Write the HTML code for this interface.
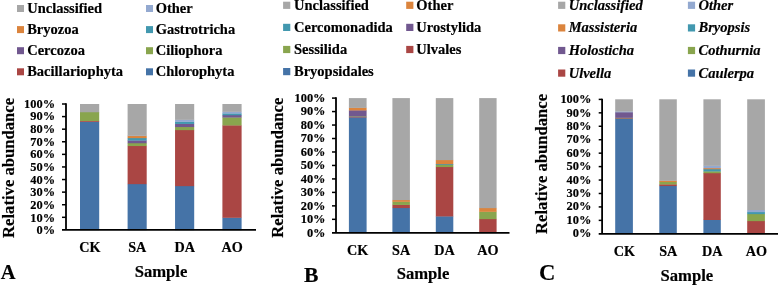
<!DOCTYPE html>
<html><head><meta charset="utf-8"><title>Relative abundance</title>
<style>html,body{margin:0;padding:0;background:#fff}svg{display:block}
text{font-family:"Liberation Serif",serif;font-weight:bold;fill:#000;stroke:#000;stroke-width:0.18px}</style></head>
<body><svg width="778" height="285" viewBox="0 0 778 285">
<rect width="778" height="285" fill="#fff"/>
<rect x="17" y="5.00" width="7" height="7" fill="#a7a7a7"/>
<text x="27.2" y="13.00" font-size="14.5">Unclassified</text>
<rect x="146" y="5.00" width="7" height="7" fill="#93a9d0"/>
<text x="155.7" y="13.00" font-size="14.5">Other</text>
<rect x="17" y="26.10" width="7" height="7" fill="#db843d"/>
<text x="27.2" y="34.10" font-size="14.5">Bryozoa</text>
<rect x="146" y="26.10" width="7" height="7" fill="#4298af"/>
<text x="155.7" y="34.10" font-size="14.5">Gastrotricha</text>
<rect x="17" y="47.20" width="7" height="7" fill="#71588f"/>
<text x="27.2" y="55.20" font-size="14.5">Cercozoa</text>
<rect x="146" y="47.20" width="7" height="7" fill="#89a54e"/>
<text x="155.7" y="55.20" font-size="14.5">Ciliophora</text>
<rect x="17" y="68.30" width="7" height="7" fill="#aa4644"/>
<text x="27.2" y="76.30" font-size="14.5">Bacillariophyta</text>
<rect x="146" y="68.30" width="7" height="7" fill="#4573a7"/>
<text x="155.7" y="76.30" font-size="14.5">Chlorophyta</text>
<rect x="80.00" y="121.60" width="19.20" height="108.55" fill="#4573a7"/>
<rect x="80.00" y="120.80" width="19.20" height="1.05" fill="#aa4644"/>
<rect x="80.00" y="112.00" width="19.20" height="9.05" fill="#89a54e"/>
<rect x="80.00" y="104.00" width="19.20" height="8.25" fill="#a7a7a7"/>
<rect x="127.60" y="183.90" width="19.10" height="46.25" fill="#4573a7"/>
<rect x="127.60" y="145.80" width="19.10" height="38.35" fill="#aa4644"/>
<rect x="127.60" y="143.00" width="19.10" height="3.05" fill="#89a54e"/>
<rect x="127.60" y="140.30" width="19.10" height="2.95" fill="#71588f"/>
<rect x="127.60" y="137.90" width="19.10" height="2.65" fill="#4298af"/>
<rect x="127.60" y="135.80" width="19.10" height="2.35" fill="#db843d"/>
<rect x="127.60" y="135.50" width="19.10" height="0.55" fill="#93a9d0"/>
<rect x="127.60" y="104.00" width="19.10" height="31.75" fill="#a7a7a7"/>
<rect x="175.05" y="185.90" width="19.15" height="44.25" fill="#4573a7"/>
<rect x="175.05" y="129.90" width="19.15" height="56.25" fill="#aa4644"/>
<rect x="175.05" y="126.80" width="19.15" height="3.35" fill="#89a54e"/>
<rect x="175.05" y="123.70" width="19.15" height="3.35" fill="#71588f"/>
<rect x="175.05" y="121.60" width="19.15" height="2.35" fill="#4298af"/>
<rect x="175.05" y="119.60" width="19.15" height="2.25" fill="#93a9d0"/>
<rect x="175.05" y="104.00" width="19.15" height="15.85" fill="#a7a7a7"/>
<rect x="222.40" y="217.55" width="19.20" height="12.60" fill="#4573a7"/>
<rect x="222.40" y="125.20" width="19.20" height="92.60" fill="#aa4644"/>
<rect x="222.40" y="117.30" width="19.20" height="8.15" fill="#89a54e"/>
<rect x="222.40" y="115.00" width="19.20" height="2.55" fill="#71588f"/>
<rect x="222.40" y="113.30" width="19.20" height="1.95" fill="#4298af"/>
<rect x="222.40" y="111.60" width="19.20" height="1.95" fill="#93a9d0"/>
<rect x="222.40" y="104.00" width="19.20" height="7.85" fill="#a7a7a7"/>
<path d="M66 103.25V229.9" fill="none" stroke="#000" stroke-width="1.8"/>
<path d="M62 229.90H256" fill="none" stroke="#000" stroke-width="1.7"/>
<path d="M62 104.00H66" stroke="#000" stroke-width="1.5"/>
<path d="M62 116.59H66" stroke="#000" stroke-width="1.5"/>
<path d="M62 129.18H66" stroke="#000" stroke-width="1.5"/>
<path d="M62 141.77H66" stroke="#000" stroke-width="1.5"/>
<path d="M62 154.36H66" stroke="#000" stroke-width="1.5"/>
<path d="M62 166.95H66" stroke="#000" stroke-width="1.5"/>
<path d="M62 179.54H66" stroke="#000" stroke-width="1.5"/>
<path d="M62 192.13H66" stroke="#000" stroke-width="1.5"/>
<path d="M62 204.72H66" stroke="#000" stroke-width="1.5"/>
<path d="M62 217.31H66" stroke="#000" stroke-width="1.5"/>
<text x="55.1" y="107.80" text-anchor="end" font-size="12.4">100%</text>
<text x="55.1" y="120.44" text-anchor="end" font-size="12.4">90%</text>
<text x="55.1" y="133.08" text-anchor="end" font-size="12.4">80%</text>
<text x="55.1" y="145.72" text-anchor="end" font-size="12.4">70%</text>
<text x="55.1" y="158.36" text-anchor="end" font-size="12.4">60%</text>
<text x="55.1" y="171.00" text-anchor="end" font-size="12.4">50%</text>
<text x="55.1" y="183.64" text-anchor="end" font-size="12.4">40%</text>
<text x="55.1" y="196.28" text-anchor="end" font-size="12.4">30%</text>
<text x="55.1" y="208.92" text-anchor="end" font-size="12.4">20%</text>
<text x="55.1" y="221.56" text-anchor="end" font-size="12.4">10%</text>
<text x="55.1" y="234.20" text-anchor="end" font-size="12.4">0%</text>
<text x="89.8" y="251.7" text-anchor="middle" font-size="14.2">CK</text>
<text x="137.2" y="251.7" text-anchor="middle" font-size="14.2">SA</text>
<text x="184.8" y="251.7" text-anchor="middle" font-size="14.2">DA</text>
<text x="232.2" y="251.7" text-anchor="middle" font-size="14.2">AO</text>
<text x="161" y="276.8" text-anchor="middle" font-size="16.65">Sample</text>
<text x="0.8" y="278.9" font-size="20.5">A</text>
<text transform="translate(14,167.9) rotate(-90)" text-anchor="middle" font-size="16.65">Relative abundance</text>
<rect x="283.1" y="1.70" width="7.2" height="7.2" fill="#a7a7a7"/>
<text x="294.0" y="9.70" font-size="14.5">Unclassified</text>
<rect x="406.2" y="1.70" width="7.2" height="7.2" fill="#db843d"/>
<text x="416.3" y="9.70" font-size="14.5">Other</text>
<rect x="283.1" y="23.80" width="7.2" height="7.2" fill="#4298af"/>
<text x="294.0" y="31.80" font-size="14.5">Cercomonadida</text>
<rect x="406.2" y="23.80" width="7.2" height="7.2" fill="#71588f"/>
<text x="416.3" y="31.80" font-size="14.5">Urostylida</text>
<rect x="283.1" y="45.90" width="7.2" height="7.2" fill="#89a54e"/>
<text x="294.0" y="53.90" font-size="14.5">Sessilida</text>
<rect x="406.2" y="45.90" width="7.2" height="7.2" fill="#aa4644"/>
<text x="416.3" y="53.90" font-size="14.5">Ulvales</text>
<rect x="283.1" y="68.00" width="7.2" height="7.2" fill="#4573a7"/>
<text x="294.0" y="76.00" font-size="14.5">Bryopsidales</text>
<rect x="348.90" y="117.20" width="17.70" height="115.85" fill="#4573a7"/>
<rect x="348.90" y="116.70" width="17.70" height="0.75" fill="#aa4644"/>
<rect x="348.90" y="116.20" width="17.70" height="0.75" fill="#89a54e"/>
<rect x="348.90" y="110.20" width="17.70" height="6.25" fill="#71588f"/>
<rect x="348.90" y="107.65" width="17.70" height="2.80" fill="#db843d"/>
<rect x="348.90" y="98.10" width="17.70" height="9.80" fill="#a7a7a7"/>
<rect x="392.40" y="207.80" width="17.50" height="25.25" fill="#4573a7"/>
<rect x="392.40" y="204.70" width="17.50" height="3.35" fill="#aa4644"/>
<rect x="392.40" y="201.60" width="17.50" height="3.35" fill="#89a54e"/>
<rect x="392.40" y="199.90" width="17.50" height="1.95" fill="#db843d"/>
<rect x="392.40" y="98.10" width="17.50" height="102.05" fill="#a7a7a7"/>
<rect x="435.80" y="216.20" width="17.50" height="16.85" fill="#4573a7"/>
<rect x="435.80" y="166.80" width="17.50" height="49.65" fill="#aa4644"/>
<rect x="435.80" y="164.80" width="17.50" height="2.25" fill="#89a54e"/>
<rect x="435.80" y="164.00" width="17.50" height="1.05" fill="#4298af"/>
<rect x="435.80" y="159.90" width="17.50" height="4.35" fill="#db843d"/>
<rect x="435.80" y="98.10" width="17.50" height="62.05" fill="#a7a7a7"/>
<rect x="479.20" y="218.90" width="17.40" height="14.15" fill="#aa4644"/>
<rect x="479.20" y="211.60" width="17.40" height="7.55" fill="#89a54e"/>
<rect x="479.20" y="207.90" width="17.40" height="3.95" fill="#db843d"/>
<rect x="479.20" y="98.10" width="17.40" height="110.05" fill="#a7a7a7"/>
<path d="M336 97.35V232.8" fill="none" stroke="#000" stroke-width="1.8"/>
<path d="M332 232.80H509.5" fill="none" stroke="#000" stroke-width="1.7"/>
<path d="M332 98.10H336" stroke="#000" stroke-width="1.5"/>
<path d="M332 111.57H336" stroke="#000" stroke-width="1.5"/>
<path d="M332 125.04H336" stroke="#000" stroke-width="1.5"/>
<path d="M332 138.51H336" stroke="#000" stroke-width="1.5"/>
<path d="M332 151.98H336" stroke="#000" stroke-width="1.5"/>
<path d="M332 165.45H336" stroke="#000" stroke-width="1.5"/>
<path d="M332 178.92H336" stroke="#000" stroke-width="1.5"/>
<path d="M332 192.39H336" stroke="#000" stroke-width="1.5"/>
<path d="M332 205.86H336" stroke="#000" stroke-width="1.5"/>
<path d="M332 219.33H336" stroke="#000" stroke-width="1.5"/>
<text x="325.5" y="101.80" text-anchor="end" font-size="12.4">100%</text>
<text x="325.5" y="115.30" text-anchor="end" font-size="12.4">90%</text>
<text x="325.5" y="128.80" text-anchor="end" font-size="12.4">80%</text>
<text x="325.5" y="142.30" text-anchor="end" font-size="12.4">70%</text>
<text x="325.5" y="155.80" text-anchor="end" font-size="12.4">60%</text>
<text x="325.5" y="169.30" text-anchor="end" font-size="12.4">50%</text>
<text x="325.5" y="182.80" text-anchor="end" font-size="12.4">40%</text>
<text x="325.5" y="196.30" text-anchor="end" font-size="12.4">30%</text>
<text x="325.5" y="209.80" text-anchor="end" font-size="12.4">20%</text>
<text x="325.5" y="223.30" text-anchor="end" font-size="12.4">10%</text>
<text x="325.5" y="236.80" text-anchor="end" font-size="12.4">0%</text>
<text x="357.7" y="254.7" text-anchor="middle" font-size="14.2">CK</text>
<text x="401.1" y="254.7" text-anchor="middle" font-size="14.2">SA</text>
<text x="444.5" y="254.7" text-anchor="middle" font-size="14.2">DA</text>
<text x="487.9" y="254.7" text-anchor="middle" font-size="14.2">AO</text>
<text x="423" y="278.9" text-anchor="middle" font-size="16.65">Sample</text>
<text x="303.9" y="281.5" font-size="21.6">B</text>
<text transform="translate(282.8,167.7) rotate(-90)" text-anchor="middle" font-size="16.65">Relative abundance</text>
<rect x="558.1" y="1.70" width="7.2" height="7.2" fill="#a7a7a7"/>
<text x="568.7" y="9.80" font-size="14.5" font-style="italic">Unclassified</text>
<rect x="687.9" y="1.70" width="7.2" height="7.2" fill="#93a9d0"/>
<text x="698.5" y="9.80" font-size="14.5" font-style="italic">Other</text>
<rect x="558.1" y="24.30" width="7.2" height="7.2" fill="#db843d"/>
<text x="568.7" y="32.40" font-size="14.5" font-style="italic">Massisteria</text>
<rect x="687.9" y="24.30" width="7.2" height="7.2" fill="#4298af"/>
<text x="698.5" y="32.40" font-size="14.5" font-style="italic">Bryopsis</text>
<rect x="558.1" y="46.90" width="7.2" height="7.2" fill="#71588f"/>
<text x="568.7" y="55.00" font-size="14.5" font-style="italic">Holosticha</text>
<rect x="687.9" y="46.90" width="7.2" height="7.2" fill="#89a54e"/>
<text x="698.5" y="55.00" font-size="14.5" font-style="italic">Cothurnia</text>
<rect x="558.1" y="69.50" width="7.2" height="7.2" fill="#aa4644"/>
<text x="568.7" y="77.60" font-size="14.5" font-style="italic">Ulvella</text>
<rect x="687.9" y="69.50" width="7.2" height="7.2" fill="#4573a7"/>
<text x="698.5" y="77.60" font-size="14.5" font-style="italic">Caulerpa</text>
<rect x="615.20" y="118.40" width="17.70" height="115.65" fill="#4573a7"/>
<rect x="615.20" y="118.00" width="17.70" height="0.65" fill="#aa4644"/>
<rect x="615.20" y="117.60" width="17.70" height="0.65" fill="#89a54e"/>
<rect x="615.20" y="112.10" width="17.70" height="5.75" fill="#71588f"/>
<rect x="615.20" y="111.30" width="17.70" height="1.05" fill="#93a9d0"/>
<rect x="615.20" y="99.30" width="17.70" height="12.25" fill="#a7a7a7"/>
<rect x="659.30" y="185.80" width="17.50" height="48.25" fill="#4573a7"/>
<rect x="659.30" y="184.20" width="17.50" height="1.85" fill="#aa4644"/>
<rect x="659.30" y="181.80" width="17.50" height="2.65" fill="#89a54e"/>
<rect x="659.30" y="180.60" width="17.50" height="1.45" fill="#db843d"/>
<rect x="659.30" y="99.30" width="17.50" height="81.55" fill="#a7a7a7"/>
<rect x="703.40" y="219.75" width="17.40" height="14.30" fill="#4573a7"/>
<rect x="703.40" y="173.00" width="17.40" height="47.00" fill="#aa4644"/>
<rect x="703.40" y="171.20" width="17.40" height="2.05" fill="#89a54e"/>
<rect x="703.40" y="169.00" width="17.40" height="2.45" fill="#4298af"/>
<rect x="703.40" y="168.00" width="17.40" height="1.25" fill="#db843d"/>
<rect x="703.40" y="165.60" width="17.40" height="2.65" fill="#93a9d0"/>
<rect x="703.40" y="99.30" width="17.40" height="66.55" fill="#a7a7a7"/>
<rect x="747.20" y="220.90" width="17.70" height="13.15" fill="#aa4644"/>
<rect x="747.20" y="213.90" width="17.70" height="7.25" fill="#89a54e"/>
<rect x="747.20" y="211.90" width="17.70" height="2.25" fill="#4298af"/>
<rect x="747.20" y="209.90" width="17.70" height="2.25" fill="#93a9d0"/>
<rect x="747.20" y="99.30" width="17.70" height="110.85" fill="#a7a7a7"/>
<path d="M602.1 98.65V233.8" fill="none" stroke="#000" stroke-width="1.8"/>
<path d="M598.7 233.80H779" fill="none" stroke="#000" stroke-width="1.7"/>
<path d="M598.7 99.40H602.1" stroke="#000" stroke-width="1.5"/>
<path d="M598.7 112.84H602.1" stroke="#000" stroke-width="1.5"/>
<path d="M598.7 126.28H602.1" stroke="#000" stroke-width="1.5"/>
<path d="M598.7 139.72H602.1" stroke="#000" stroke-width="1.5"/>
<path d="M598.7 153.16H602.1" stroke="#000" stroke-width="1.5"/>
<path d="M598.7 166.60H602.1" stroke="#000" stroke-width="1.5"/>
<path d="M598.7 180.04H602.1" stroke="#000" stroke-width="1.5"/>
<path d="M598.7 193.48H602.1" stroke="#000" stroke-width="1.5"/>
<path d="M598.7 206.92H602.1" stroke="#000" stroke-width="1.5"/>
<path d="M598.7 220.36H602.1" stroke="#000" stroke-width="1.5"/>
<text x="591.4" y="103.40" text-anchor="end" font-size="12.4">100%</text>
<text x="591.4" y="116.75" text-anchor="end" font-size="12.4">90%</text>
<text x="591.4" y="130.10" text-anchor="end" font-size="12.4">80%</text>
<text x="591.4" y="143.45" text-anchor="end" font-size="12.4">70%</text>
<text x="591.4" y="156.80" text-anchor="end" font-size="12.4">60%</text>
<text x="591.4" y="170.15" text-anchor="end" font-size="12.4">50%</text>
<text x="591.4" y="183.50" text-anchor="end" font-size="12.4">40%</text>
<text x="591.4" y="196.85" text-anchor="end" font-size="12.4">30%</text>
<text x="591.4" y="210.20" text-anchor="end" font-size="12.4">20%</text>
<text x="591.4" y="223.55" text-anchor="end" font-size="12.4">10%</text>
<text x="591.4" y="236.90" text-anchor="end" font-size="12.4">0%</text>
<text x="624.3" y="255.5" text-anchor="middle" font-size="14.2">CK</text>
<text x="668.3" y="255.5" text-anchor="middle" font-size="14.2">SA</text>
<text x="712.3" y="255.5" text-anchor="middle" font-size="14.2">DA</text>
<text x="756.3" y="255.5" text-anchor="middle" font-size="14.2">AO</text>
<text x="686.9" y="281.1" text-anchor="middle" font-size="16.65">Sample</text>
<text x="538.9" y="280.1" font-size="22.6">C</text>
<text transform="translate(547,163.9) rotate(-90)" text-anchor="middle" font-size="16.65">Relative abundance</text>
</svg></body></html>
